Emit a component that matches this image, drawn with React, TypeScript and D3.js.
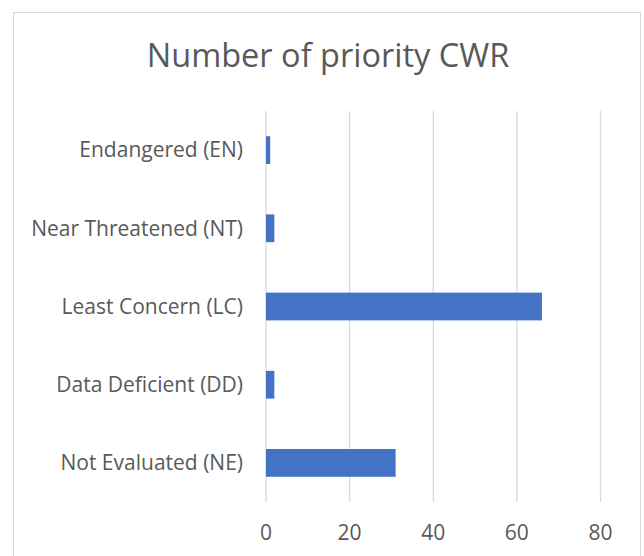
import React, { useEffect, useRef } from 'react';
import * as d3 from 'd3';

const categories = [
  'Endangered (EN)',
  'Near Threatened (NT)',
  'Least Concern (LC)',
  'Data Deficient (DD)',
  'Not Evaluated (NE)',
];
const counts = [1, 2, 66, 2, 31];
const xTicks = [0, 20, 40, 60, 80];
const title = 'Number of priority CWR';

const App: React.FC = () => {
  const svgRef = useRef<SVGSVGElement>(null);

  useEffect(() => {
    if (!svgRef.current) return;
    const svg = d3.select(svgRef.current);
    svg.selectAll('*').remove();

    const font = "'Open Sans', sans-serif";
    const textColor = '#595959';
    const gridColor = '#d9d9d9';

    // chart frame (bottom edge runs off the page)
    svg.append('rect')
      .attr('x', 13.5).attr('y', 12.5)
      .attr('width', 627).attr('height', 600)
      .attr('fill', '#fff')
      .attr('stroke', gridColor);

    svg.append('text')
      .attr('x', 328).attr('y', 67)
      .attr('text-anchor', 'middle')
      .attr('font-family', font)
      .attr('font-size', 32.5)
      .attr('fill', textColor)
      .text(title);

    const x = d3.scaleLinear().domain([0, 80]).range([266, 600.5]);
    const y = d3.scaleBand<string>()
      .domain(categories)
      .range([111, 502])
      .paddingInner(0.645)
      .paddingOuter(0.3225);

    // gridlines
    svg.append('g')
      .selectAll('line')
      .data(xTicks)
      .join('line')
      .attr('x1', d => x(d)).attr('x2', d => x(d))
      .attr('y1', 111).attr('y2', 502)
      .attr('stroke', gridColor)
      .attr('stroke-width', 1.3);

    // tick labels
    svg.append('g')
      .selectAll('text')
      .data(xTicks)
      .join('text')
      .attr('x', d => x(d))
      .attr('y', 540)
      .attr('text-anchor', 'middle')
      .attr('font-family', font)
      .attr('font-size', 21)
      .attr('fill', textColor)
      .text(d => d);

    // bars
    svg.append('g')
      .selectAll('rect')
      .data(categories)
      .join('rect')
      .attr('x', x(0))
      .attr('y', d => y(d)!)
      .attr('width', (d, i) => x(counts[i]) - x(0))
      .attr('height', y.bandwidth())
      .attr('fill', '#4472c4');

    // category labels
    svg.append('g')
      .selectAll('text')
      .data(categories)
      .join('text')
      .attr('x', 243)
      .attr('y', d => y(d)! + y.bandwidth() / 2 + 7.3)
      .attr('text-anchor', 'end')
      .attr('font-family', font)
      .attr('font-size', 21)
      .attr('fill', textColor)
      .text(d => d);
  }, []);

  return (
    <div style={{ position: 'absolute', left: 0, top: 0 }}>
      <svg ref={svgRef} width={644} height={556} style={{ display: 'block' }} />
    </div>
  );
};

export default App;
